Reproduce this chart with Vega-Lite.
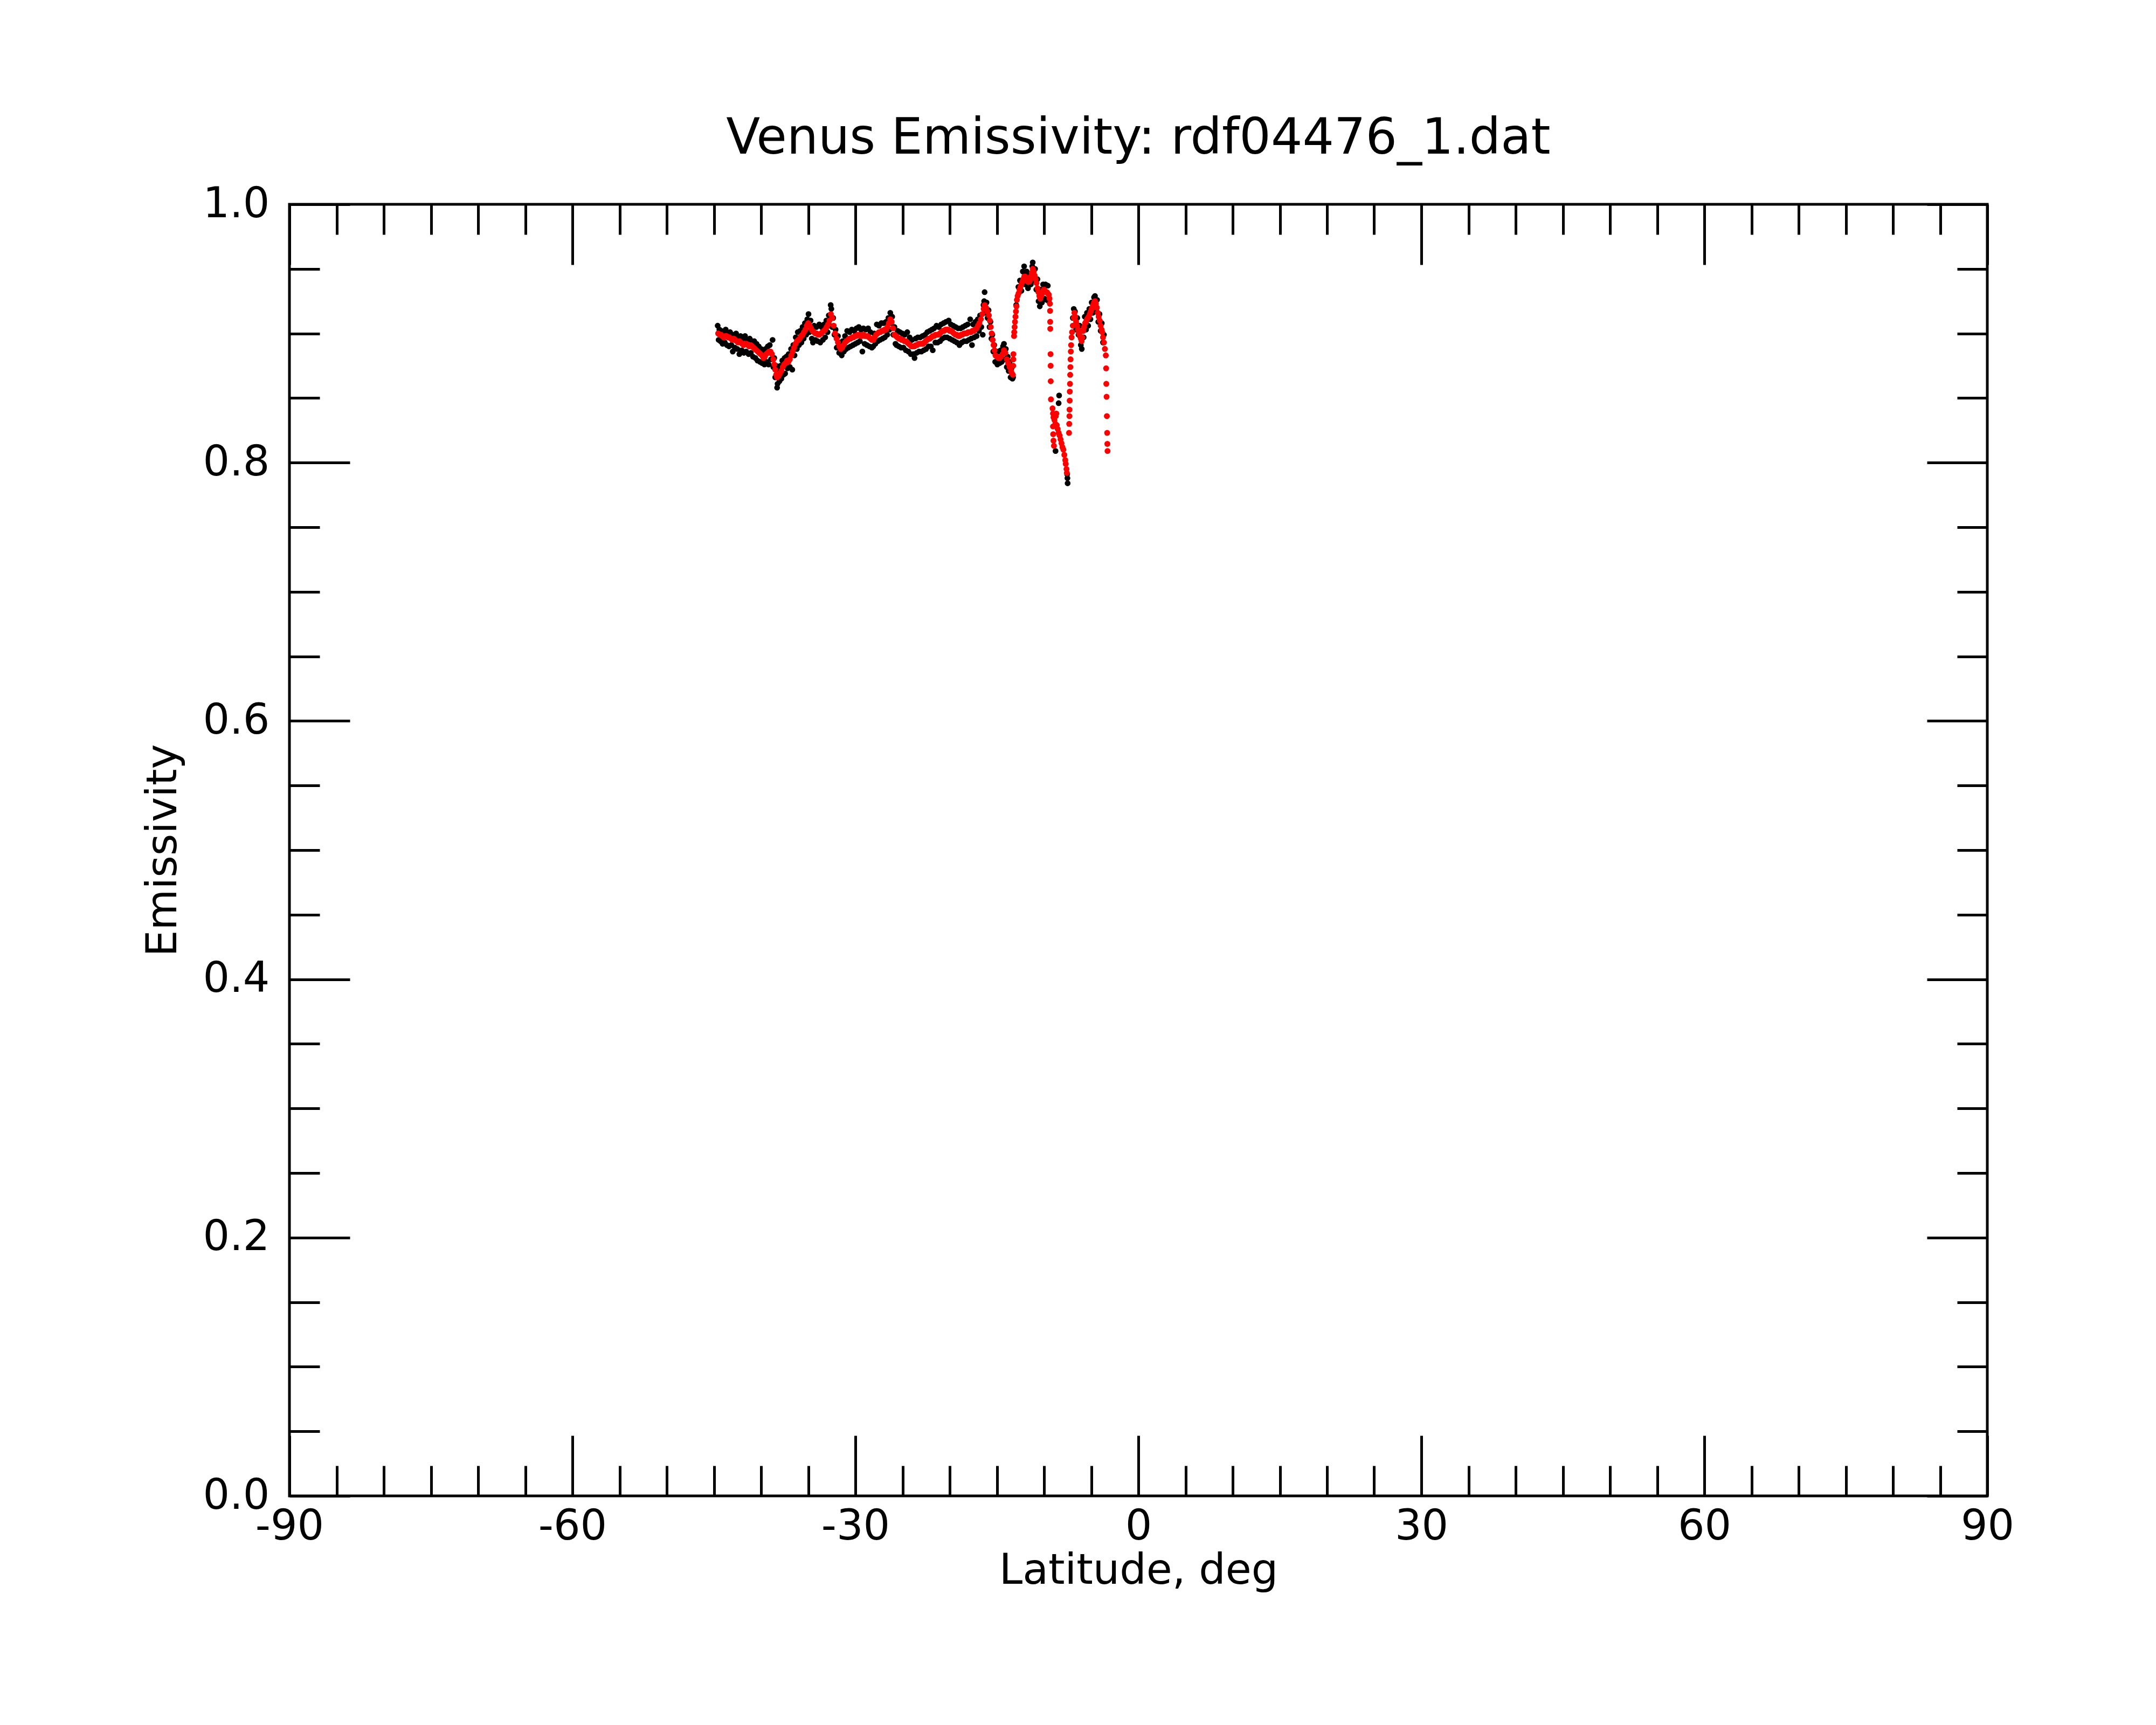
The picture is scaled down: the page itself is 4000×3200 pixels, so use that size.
{
"$schema":"https://vega.github.io/schema/vega-lite/v6.json",
"width":3150,"height":2396,
"autosize":{"type":"none"},
"padding":{"left":537,"top":379,"right":313,"bottom":425},
"background":"white",
"title":{"text":"Venus Emissivity: rdf04476_1.dat","fontSize":92,"font":"DejaVu Sans","fontWeight":"normal","color":"black","anchor":"middle","frame":"group","baseline":"alphabetic","offset":-37},
"datasets":{
"raw":[
{"lat":-44.60,"emis":0.906},{"lat":-44.50,"emis":0.895},{"lat":-44.42,"emis":0.903},{"lat":-44.30,"emis":0.894},{"lat":-44.20,"emis":0.902},{"lat":-44.08,"emis":0.892},{"lat":-43.98,"emis":0.901},{"lat":-43.85,"emis":0.893},{"lat":-43.75,"emis":0.903},{"lat":-43.62,"emis":0.891},{"lat":-43.50,"emis":0.900},{"lat":-43.40,"emis":0.890},{"lat":-43.28,"emis":0.901},{"lat":-43.15,"emis":0.891},{"lat":-43.00,"emis":0.886},{"lat":-42.90,"emis":0.899},{"lat":-42.78,"emis":0.889},{"lat":-42.65,"emis":0.900},{"lat":-42.52,"emis":0.888},{"lat":-42.40,"emis":0.897},{"lat":-42.30,"emis":0.884},{"lat":-42.18,"emis":0.898},{"lat":-42.05,"emis":0.887},{"lat":-41.95,"emis":0.896},{"lat":-41.82,"emis":0.885},{"lat":-41.70,"emis":0.898},{"lat":-41.58,"emis":0.886},{"lat":-41.45,"emis":0.895},{"lat":-41.32,"emis":0.884},{"lat":-41.20,"emis":0.896},{"lat":-41.08,"emis":0.885},{"lat":-40.95,"emis":0.894},{"lat":-40.85,"emis":0.882},{"lat":-40.72,"emis":0.894},{"lat":-40.60,"emis":0.881},{"lat":-40.48,"emis":0.892},{"lat":-40.38,"emis":0.879},{"lat":-40.25,"emis":0.890},{"lat":-40.12,"emis":0.878},{"lat":-40.00,"emis":0.888},{"lat":-39.88,"emis":0.877},{"lat":-39.75,"emis":0.887},{"lat":-39.64,"emis":0.876},{"lat":-39.52,"emis":0.888},{"lat":-39.40,"emis":0.878},{"lat":-39.28,"emis":0.890},{"lat":-39.20,"emis":0.876},{"lat":-39.08,"emis":0.891},{"lat":-38.95,"emis":0.880},{"lat":-38.78,"emis":0.895},{"lat":-38.70,"emis":0.874},{"lat":-38.60,"emis":0.881},{"lat":-38.50,"emis":0.866},{"lat":-38.40,"emis":0.875},{"lat":-38.30,"emis":0.858},{"lat":-38.25,"emis":0.861},{"lat":-38.15,"emis":0.872},{"lat":-38.05,"emis":0.863},{"lat":-37.95,"emis":0.875},{"lat":-37.85,"emis":0.865},{"lat":-37.75,"emis":0.879},{"lat":-37.62,"emis":0.868},{"lat":-37.50,"emis":0.881},{"lat":-37.45,"emis":0.869},{"lat":-37.32,"emis":0.882},{"lat":-37.20,"emis":0.873},{"lat":-37.08,"emis":0.884},{"lat":-36.95,"emis":0.874},{"lat":-36.82,"emis":0.888},{"lat":-36.69,"emis":0.872},{"lat":-36.58,"emis":0.891},{"lat":-36.45,"emis":0.883},{"lat":-36.32,"emis":0.897},{"lat":-36.20,"emis":0.888},{"lat":-36.11,"emis":0.901},{"lat":-35.98,"emis":0.891},{"lat":-35.85,"emis":0.902},{"lat":-35.72,"emis":0.893},{"lat":-35.60,"emis":0.905},{"lat":-35.48,"emis":0.896},{"lat":-35.35,"emis":0.908},{"lat":-35.22,"emis":0.899},{"lat":-35.10,"emis":0.911},{"lat":-34.97,"emis":0.915},{"lat":-34.88,"emis":0.901},{"lat":-34.75,"emis":0.910},{"lat":-34.62,"emis":0.896},{"lat":-34.50,"emis":0.893},{"lat":-34.38,"emis":0.906},{"lat":-34.25,"emis":0.895},{"lat":-34.12,"emis":0.905},{"lat":-34.00,"emis":0.894},{"lat":-33.83,"emis":0.907},{"lat":-33.72,"emis":0.893},{"lat":-33.58,"emis":0.905},{"lat":-33.45,"emis":0.895},{"lat":-33.32,"emis":0.907},{"lat":-33.20,"emis":0.897},{"lat":-33.08,"emis":0.910},{"lat":-32.95,"emis":0.901},{"lat":-32.82,"emis":0.914},{"lat":-32.70,"emis":0.906},{"lat":-32.62,"emis":0.922},{"lat":-32.55,"emis":0.919},{"lat":-32.45,"emis":0.905},{"lat":-32.35,"emis":0.912},{"lat":-32.22,"emis":0.899},{"lat":-32.10,"emis":0.903},{"lat":-31.98,"emis":0.889},{"lat":-31.85,"emis":0.898},{"lat":-31.72,"emis":0.885},{"lat":-31.60,"emis":0.893},{"lat":-31.45,"emis":0.883},{"lat":-31.35,"emis":0.894},{"lat":-31.22,"emis":0.886},{"lat":-31.10,"emis":0.898},{"lat":-30.98,"emis":0.888},{"lat":-30.87,"emis":0.902},{"lat":-30.75,"emis":0.889},{"lat":-30.62,"emis":0.901},{"lat":-30.50,"emis":0.890},{"lat":-30.38,"emis":0.903},{"lat":-30.25,"emis":0.891},{"lat":-30.12,"emis":0.902},{"lat":-30.00,"emis":0.892},{"lat":-29.88,"emis":0.904},{"lat":-29.75,"emis":0.893},{"lat":-29.64,"emis":0.905},{"lat":-29.52,"emis":0.894},{"lat":-29.40,"emis":0.903},{"lat":-29.26,"emis":0.886},{"lat":-29.15,"emis":0.904},{"lat":-29.02,"emis":0.892},{"lat":-28.90,"emis":0.903},{"lat":-28.78,"emis":0.891},{"lat":-28.65,"emis":0.904},{"lat":-28.52,"emis":0.890},{"lat":-28.40,"emis":0.901},{"lat":-28.25,"emis":0.889},{"lat":-28.11,"emis":0.890},{"lat":-28.00,"emis":0.900},{"lat":-27.88,"emis":0.892},{"lat":-27.73,"emis":0.907},{"lat":-27.62,"emis":0.894},{"lat":-27.50,"emis":0.906},{"lat":-27.38,"emis":0.895},{"lat":-27.25,"emis":0.908},{"lat":-27.12,"emis":0.896},{"lat":-27.00,"emis":0.908},{"lat":-26.88,"emis":0.897},{"lat":-26.75,"emis":0.909},{"lat":-26.62,"emis":0.899},{"lat":-26.50,"emis":0.912},{"lat":-26.40,"emis":0.903},{"lat":-26.30,"emis":0.916},{"lat":-26.22,"emis":0.908},{"lat":-26.10,"emis":0.913},{"lat":-25.98,"emis":0.899},{"lat":-25.86,"emis":0.905},{"lat":-25.75,"emis":0.892},{"lat":-25.64,"emis":0.891},{"lat":-25.52,"emis":0.902},{"lat":-25.40,"emis":0.890},{"lat":-25.28,"emis":0.901},{"lat":-25.15,"emis":0.889},{"lat":-25.02,"emis":0.900},{"lat":-24.90,"emis":0.889},{"lat":-24.78,"emis":0.899},{"lat":-24.65,"emis":0.887},{"lat":-24.50,"emis":0.901},{"lat":-24.38,"emis":0.886},{"lat":-24.25,"emis":0.897},{"lat":-24.12,"emis":0.884},{"lat":-24.00,"emis":0.895},{"lat":-23.85,"emis":0.884},{"lat":-23.73,"emis":0.881},{"lat":-23.62,"emis":0.896},{"lat":-23.50,"emis":0.885},{"lat":-23.38,"emis":0.897},{"lat":-23.25,"emis":0.886},{"lat":-23.12,"emis":0.897},{"lat":-23.00,"emis":0.886},{"lat":-22.88,"emis":0.898},{"lat":-22.75,"emis":0.887},{"lat":-22.62,"emis":0.899},{"lat":-22.50,"emis":0.888},{"lat":-22.38,"emis":0.901},{"lat":-22.25,"emis":0.890},{"lat":-22.12,"emis":0.902},{"lat":-22.00,"emis":0.890},{"lat":-21.88,"emis":0.903},{"lat":-21.80,"emis":0.887},{"lat":-21.65,"emis":0.904},{"lat":-21.52,"emis":0.893},{"lat":-21.40,"emis":0.906},{"lat":-21.28,"emis":0.893},{"lat":-21.15,"emis":0.905},{"lat":-21.02,"emis":0.894},{"lat":-20.90,"emis":0.907},{"lat":-20.78,"emis":0.896},{"lat":-20.65,"emis":0.908},{"lat":-20.52,"emis":0.897},{"lat":-20.40,"emis":0.909},{"lat":-20.28,"emis":0.897},{"lat":-20.11,"emis":0.910},{"lat":-20.00,"emis":0.896},{"lat":-19.88,"emis":0.907},{"lat":-19.75,"emis":0.895},{"lat":-19.62,"emis":0.906},{"lat":-19.50,"emis":0.894},{"lat":-19.38,"emis":0.905},{"lat":-19.25,"emis":0.893},{"lat":-19.12,"emis":0.904},{"lat":-18.97,"emis":0.891},{"lat":-18.85,"emis":0.904},{"lat":-18.72,"emis":0.893},{"lat":-18.60,"emis":0.905},{"lat":-18.48,"emis":0.894},{"lat":-18.35,"emis":0.906},{"lat":-18.22,"emis":0.894},{"lat":-18.10,"emis":0.907},{"lat":-17.98,"emis":0.895},{"lat":-17.83,"emis":0.911},{"lat":-17.72,"emis":0.896},{"lat":-17.64,"emis":0.891},{"lat":-17.52,"emis":0.907},{"lat":-17.40,"emis":0.897},{"lat":-17.28,"emis":0.909},{"lat":-17.15,"emis":0.898},{"lat":-17.02,"emis":0.911},{"lat":-16.90,"emis":0.902},{"lat":-16.78,"emis":0.914},{"lat":-16.65,"emis":0.905},{"lat":-16.50,"emis":0.899},{"lat":-16.42,"emis":0.922},{"lat":-16.35,"emis":0.925},{"lat":-16.30,"emis":0.932},{"lat":-16.22,"emis":0.916},{"lat":-16.10,"emis":0.924},{"lat":-15.98,"emis":0.912},{"lat":-15.88,"emis":0.918},{"lat":-15.78,"emis":0.905},{"lat":-15.68,"emis":0.909},{"lat":-15.58,"emis":0.896},{"lat":-15.48,"emis":0.899},{"lat":-15.38,"emis":0.886},{"lat":-15.28,"emis":0.891},{"lat":-15.18,"emis":0.878},{"lat":-15.08,"emis":0.886},{"lat":-14.95,"emis":0.876},{"lat":-14.85,"emis":0.886},{"lat":-14.72,"emis":0.877},{"lat":-14.60,"emis":0.887},{"lat":-14.48,"emis":0.878},{"lat":-14.35,"emis":0.890},{"lat":-14.25,"emis":0.892},{"lat":-14.15,"emis":0.880},{"lat":-14.05,"emis":0.888},{"lat":-13.95,"emis":0.874},{"lat":-13.85,"emis":0.882},{"lat":-13.75,"emis":0.871},{"lat":-13.65,"emis":0.878},{"lat":-13.55,"emis":0.866},{"lat":-13.45,"emis":0.873},{"lat":-13.35,"emis":0.865},{"lat":-13.28,"emis":0.866},
{"lat":-12.95,"emis":0.922},{"lat":-12.72,"emis":0.936},{"lat":-12.55,"emis":0.941},{"lat":-12.40,"emis":0.933},{"lat":-12.25,"emis":0.948},{"lat":-12.11,"emis":0.952},{"lat":-12.00,"emis":0.938},{"lat":-11.85,"emis":0.948},{"lat":-11.70,"emis":0.935},{"lat":-11.55,"emis":0.946},{"lat":-11.40,"emis":0.938},{"lat":-11.25,"emis":0.952},{"lat":-11.20,"emis":0.955},{"lat":-11.08,"emis":0.941},{"lat":-10.95,"emis":0.950},{"lat":-10.82,"emis":0.934},{"lat":-10.70,"emis":0.942},{"lat":-10.58,"emis":0.925},{"lat":-10.45,"emis":0.921},{"lat":-10.35,"emis":0.934},{"lat":-10.22,"emis":0.924},{"lat":-10.10,"emis":0.938},{"lat":-9.98,"emis":0.927},{"lat":-9.85,"emis":0.938},{"lat":-9.72,"emis":0.926},{"lat":-9.60,"emis":0.937},{"lat":-9.50,"emis":0.925},
{"lat":-8.78,"emis":0.809},{"lat":-8.40,"emis":0.852},{"lat":-8.45,"emis":0.846},{"lat":-8.95,"emis":0.836},{"lat":-7.50,"emis":0.784},{"lat":-7.52,"emis":0.788},{"lat":-7.55,"emis":0.791},
{"lat":-6.95,"emis":0.912},{"lat":-6.85,"emis":0.919},{"lat":-6.72,"emis":0.917},{"lat":-6.60,"emis":0.903},{"lat":-6.48,"emis":0.912},{"lat":-6.35,"emis":0.899},{"lat":-6.22,"emis":0.906},{"lat":-6.10,"emis":0.891},{"lat":-6.00,"emis":0.888},{"lat":-5.90,"emis":0.902},{"lat":-5.80,"emis":0.897},{"lat":-5.68,"emis":0.913},{"lat":-5.55,"emis":0.903},{"lat":-5.45,"emis":0.916},{"lat":-5.32,"emis":0.906},{"lat":-5.20,"emis":0.919},{"lat":-5.08,"emis":0.911},{"lat":-4.95,"emis":0.924},{"lat":-4.82,"emis":0.916},{"lat":-4.70,"emis":0.928},{"lat":-4.60,"emis":0.929},{"lat":-4.48,"emis":0.918},{"lat":-4.38,"emis":0.926},{"lat":-4.25,"emis":0.909},{"lat":-4.12,"emis":0.915},{"lat":-4.00,"emis":0.902},{"lat":-3.88,"emis":0.908},{"lat":-3.75,"emis":0.893},{"lat":-3.65,"emis":0.899}
],
"smooth":[
{"lat":-44.55,"emis":0.900},{"lat":-44.40,"emis":0.899},{"lat":-44.25,"emis":0.899},{"lat":-44.10,"emis":0.898},{"lat":-43.95,"emis":0.897},{"lat":-43.80,"emis":0.898},{"lat":-43.65,"emis":0.898},{"lat":-43.50,"emis":0.897},{"lat":-43.35,"emis":0.897},{"lat":-43.20,"emis":0.896},{"lat":-43.05,"emis":0.895},{"lat":-42.90,"emis":0.896},{"lat":-42.75,"emis":0.895},{"lat":-42.60,"emis":0.894},{"lat":-42.45,"emis":0.893},{"lat":-42.30,"emis":0.894},{"lat":-42.15,"emis":0.893},{"lat":-42.00,"emis":0.892},{"lat":-41.85,"emis":0.891},{"lat":-41.70,"emis":0.892},{"lat":-41.55,"emis":0.892},{"lat":-41.40,"emis":0.891},{"lat":-41.25,"emis":0.890},{"lat":-41.10,"emis":0.891},{"lat":-40.95,"emis":0.890},{"lat":-40.80,"emis":0.889},{"lat":-40.65,"emis":0.888},{"lat":-40.50,"emis":0.887},{"lat":-40.35,"emis":0.886},{"lat":-40.20,"emis":0.885},{"lat":-40.05,"emis":0.884},{"lat":-39.90,"emis":0.883},{"lat":-39.75,"emis":0.881},{"lat":-39.60,"emis":0.882},{"lat":-39.45,"emis":0.884},{"lat":-39.30,"emis":0.885},{"lat":-39.15,"emis":0.886},{"lat":-39.00,"emis":0.886},{"lat":-38.85,"emis":0.884},{"lat":-38.70,"emis":0.880},{"lat":-38.60,"emis":0.876},{"lat":-38.50,"emis":0.872},{"lat":-38.40,"emis":0.868},{"lat":-38.30,"emis":0.866},{"lat":-38.15,"emis":0.867},{"lat":-38.00,"emis":0.869},{"lat":-37.85,"emis":0.871},{"lat":-37.70,"emis":0.874},{"lat":-37.55,"emis":0.876},{"lat":-37.40,"emis":0.877},{"lat":-37.25,"emis":0.879},{"lat":-37.10,"emis":0.878},{"lat":-36.95,"emis":0.880},{"lat":-36.80,"emis":0.883},{"lat":-36.65,"emis":0.886},{"lat":-36.50,"emis":0.889},{"lat":-36.35,"emis":0.892},{"lat":-36.20,"emis":0.894},{"lat":-36.05,"emis":0.895},{"lat":-35.90,"emis":0.896},{"lat":-35.75,"emis":0.898},{"lat":-35.60,"emis":0.899},{"lat":-35.45,"emis":0.901},{"lat":-35.30,"emis":0.903},{"lat":-35.15,"emis":0.906},{"lat":-35.00,"emis":0.908},{"lat":-34.85,"emis":0.906},{"lat":-34.70,"emis":0.904},{"lat":-34.55,"emis":0.902},{"lat":-34.40,"emis":0.901},{"lat":-34.25,"emis":0.900},{"lat":-34.10,"emis":0.900},{"lat":-33.95,"emis":0.899},{"lat":-33.80,"emis":0.899},{"lat":-33.65,"emis":0.900},{"lat":-33.50,"emis":0.901},{"lat":-33.35,"emis":0.902},{"lat":-33.20,"emis":0.903},{"lat":-33.05,"emis":0.905},{"lat":-32.90,"emis":0.907},{"lat":-32.75,"emis":0.910},{"lat":-32.60,"emis":0.915},{"lat":-32.45,"emis":0.912},{"lat":-32.30,"emis":0.906},{"lat":-32.15,"emis":0.900},{"lat":-32.00,"emis":0.896},{"lat":-31.85,"emis":0.893},{"lat":-31.70,"emis":0.890},{"lat":-31.55,"emis":0.888},{"lat":-31.40,"emis":0.889},{"lat":-31.25,"emis":0.891},{"lat":-31.10,"emis":0.893},{"lat":-30.95,"emis":0.894},{"lat":-30.80,"emis":0.895},{"lat":-30.65,"emis":0.896},{"lat":-30.50,"emis":0.896},{"lat":-30.35,"emis":0.897},{"lat":-30.20,"emis":0.897},{"lat":-30.05,"emis":0.898},{"lat":-29.90,"emis":0.898},{"lat":-29.75,"emis":0.899},{"lat":-29.60,"emis":0.899},{"lat":-29.45,"emis":0.898},{"lat":-29.30,"emis":0.898},{"lat":-29.15,"emis":0.899},{"lat":-29.00,"emis":0.898},{"lat":-28.85,"emis":0.898},{"lat":-28.70,"emis":0.898},{"lat":-28.55,"emis":0.897},{"lat":-28.40,"emis":0.896},{"lat":-28.25,"emis":0.895},{"lat":-28.10,"emis":0.895},{"lat":-27.95,"emis":0.897},{"lat":-27.80,"emis":0.899},{"lat":-27.65,"emis":0.900},{"lat":-27.50,"emis":0.901},{"lat":-27.35,"emis":0.901},{"lat":-27.20,"emis":0.902},{"lat":-27.05,"emis":0.902},{"lat":-26.90,"emis":0.903},{"lat":-26.75,"emis":0.903},{"lat":-26.60,"emis":0.905},{"lat":-26.45,"emis":0.908},{"lat":-26.30,"emis":0.911},{"lat":-26.15,"emis":0.909},{"lat":-26.00,"emis":0.904},{"lat":-25.85,"emis":0.899},{"lat":-25.70,"emis":0.898},{"lat":-25.55,"emis":0.897},{"lat":-25.40,"emis":0.896},{"lat":-25.25,"emis":0.896},{"lat":-25.10,"emis":0.895},{"lat":-24.95,"emis":0.895},{"lat":-24.80,"emis":0.894},{"lat":-24.65,"emis":0.894},{"lat":-24.50,"emis":0.893},{"lat":-24.35,"emis":0.892},{"lat":-24.20,"emis":0.891},{"lat":-24.05,"emis":0.890},{"lat":-23.90,"emis":0.890},{"lat":-23.75,"emis":0.890},{"lat":-23.60,"emis":0.891},{"lat":-23.45,"emis":0.891},{"lat":-23.30,"emis":0.892},{"lat":-23.15,"emis":0.892},{"lat":-23.00,"emis":0.892},{"lat":-22.85,"emis":0.892},{"lat":-22.70,"emis":0.893},{"lat":-22.55,"emis":0.894},{"lat":-22.40,"emis":0.895},{"lat":-22.25,"emis":0.896},{"lat":-22.10,"emis":0.896},{"lat":-21.95,"emis":0.897},{"lat":-21.80,"emis":0.898},{"lat":-21.65,"emis":0.898},{"lat":-21.50,"emis":0.899},{"lat":-21.35,"emis":0.899},{"lat":-21.20,"emis":0.899},{"lat":-21.05,"emis":0.900},{"lat":-20.90,"emis":0.901},{"lat":-20.75,"emis":0.902},{"lat":-20.60,"emis":0.902},{"lat":-20.45,"emis":0.903},{"lat":-20.30,"emis":0.903},{"lat":-20.15,"emis":0.903},{"lat":-20.00,"emis":0.902},{"lat":-19.85,"emis":0.902},{"lat":-19.70,"emis":0.901},{"lat":-19.55,"emis":0.900},{"lat":-19.40,"emis":0.899},{"lat":-19.25,"emis":0.899},{"lat":-19.10,"emis":0.898},{"lat":-18.95,"emis":0.898},{"lat":-18.80,"emis":0.899},{"lat":-18.65,"emis":0.899},{"lat":-18.50,"emis":0.900},{"lat":-18.35,"emis":0.900},{"lat":-18.20,"emis":0.900},{"lat":-18.05,"emis":0.901},{"lat":-17.90,"emis":0.901},{"lat":-17.75,"emis":0.901},{"lat":-17.60,"emis":0.902},{"lat":-17.45,"emis":0.902},{"lat":-17.30,"emis":0.903},{"lat":-17.15,"emis":0.904},{"lat":-17.00,"emis":0.906},{"lat":-16.85,"emis":0.908},{"lat":-16.70,"emis":0.911},{"lat":-16.55,"emis":0.915},{"lat":-16.40,"emis":0.919},{"lat":-16.30,"emis":0.922},{"lat":-16.15,"emis":0.920},{"lat":-16.00,"emis":0.917},{"lat":-15.85,"emis":0.914},{"lat":-15.75,"emis":0.910},{"lat":-15.65,"emis":0.905},{"lat":-15.55,"emis":0.900},{"lat":-15.45,"emis":0.895},{"lat":-15.35,"emis":0.891},{"lat":-15.25,"emis":0.887},{"lat":-15.15,"emis":0.883},{"lat":-15.00,"emis":0.882},{"lat":-14.85,"emis":0.881},{"lat":-14.70,"emis":0.881},{"lat":-14.55,"emis":0.882},{"lat":-14.40,"emis":0.884},{"lat":-14.25,"emis":0.887},{"lat":-14.10,"emis":0.885},{"lat":-13.95,"emis":0.880},{"lat":-13.80,"emis":0.877},{"lat":-13.65,"emis":0.874},{"lat":-13.50,"emis":0.871},{"lat":-13.40,"emis":0.869},{"lat":-13.30,"emis":0.868},{"lat":-13.25,"emis":0.884},{"lat":-13.26,"emis":0.880},{"lat":-13.27,"emis":0.875},
{"lat":-13.18,"emis":0.898},{"lat":-13.16,"emis":0.901},{"lat":-13.12,"emis":0.905},{"lat":-13.08,"emis":0.909},{"lat":-13.03,"emis":0.913},{"lat":-12.98,"emis":0.917},{"lat":-12.93,"emis":0.921},{"lat":-12.88,"emis":0.926},{"lat":-12.80,"emis":0.929},{"lat":-12.70,"emis":0.931},{"lat":-12.60,"emis":0.934},{"lat":-12.50,"emis":0.936},{"lat":-12.40,"emis":0.938},{"lat":-12.30,"emis":0.940},{"lat":-12.20,"emis":0.942},{"lat":-12.10,"emis":0.944},{"lat":-12.00,"emis":0.944},{"lat":-11.90,"emis":0.943},{"lat":-11.80,"emis":0.941},{"lat":-11.70,"emis":0.940},{"lat":-11.60,"emis":0.940},{"lat":-11.50,"emis":0.941},{"lat":-11.40,"emis":0.944},{"lat":-11.30,"emis":0.947},{"lat":-11.20,"emis":0.950},{"lat":-11.10,"emis":0.948},{"lat":-11.00,"emis":0.945},{"lat":-10.90,"emis":0.942},{"lat":-10.80,"emis":0.939},{"lat":-10.70,"emis":0.935},{"lat":-10.60,"emis":0.932},{"lat":-10.50,"emis":0.929},{"lat":-10.40,"emis":0.927},{"lat":-10.30,"emis":0.929},{"lat":-10.20,"emis":0.931},{"lat":-10.10,"emis":0.933},{"lat":-10.00,"emis":0.934},{"lat":-9.90,"emis":0.933},{"lat":-9.80,"emis":0.932},{"lat":-9.70,"emis":0.932},{"lat":-9.60,"emis":0.931},{"lat":-9.50,"emis":0.930},{"lat":-9.42,"emis":0.927},{"lat":-9.38,"emis":0.923},
{"lat":-9.36,"emis":0.9175},{"lat":-9.35,"emis":0.909},{"lat":-9.34,"emis":0.9036},{"lat":-9.31,"emis":0.884},{"lat":-9.30,"emis":0.875},{"lat":-9.29,"emis":0.863},{"lat":-9.27,"emis":0.849},
{"lat":-9.10,"emis":0.842},{"lat":-9.05,"emis":0.838},{"lat":-9.00,"emis":0.835},{"lat":-8.90,"emis":0.833},{"lat":-8.80,"emis":0.830},{"lat":-8.75,"emis":0.836},{"lat":-8.70,"emis":0.838},{"lat":-9.05,"emis":0.828},{"lat":-9.03,"emis":0.822},{"lat":-9.00,"emis":0.817},{"lat":-8.95,"emis":0.813},
{"lat":-8.65,"emis":0.829},{"lat":-8.55,"emis":0.826},{"lat":-8.45,"emis":0.823},{"lat":-8.35,"emis":0.821},{"lat":-8.25,"emis":0.818},{"lat":-8.15,"emis":0.815},{"lat":-8.05,"emis":0.812},{"lat":-7.95,"emis":0.810},{"lat":-7.85,"emis":0.806},{"lat":-7.75,"emis":0.802},{"lat":-7.70,"emis":0.799},{"lat":-7.62,"emis":0.795},{"lat":-7.58,"emis":0.792},
{"lat":-7.35,"emis":0.823},{"lat":-7.33,"emis":0.830},{"lat":-7.31,"emis":0.836},{"lat":-7.30,"emis":0.841},{"lat":-7.28,"emis":0.848},{"lat":-7.27,"emis":0.855},{"lat":-7.25,"emis":0.861},{"lat":-7.23,"emis":0.868},{"lat":-7.21,"emis":0.874},{"lat":-7.19,"emis":0.880},{"lat":-7.16,"emis":0.886},{"lat":-7.13,"emis":0.891},{"lat":-7.08,"emis":0.897},{"lat":-7.03,"emis":0.901},
{"lat":-6.95,"emis":0.906},{"lat":-6.85,"emis":0.912},{"lat":-6.78,"emis":0.916},{"lat":-6.70,"emis":0.913},{"lat":-6.60,"emis":0.909},{"lat":-6.50,"emis":0.906},{"lat":-6.40,"emis":0.903},{"lat":-6.30,"emis":0.900},{"lat":-6.20,"emis":0.898},{"lat":-6.10,"emis":0.896},{"lat":-6.02,"emis":0.894},{"lat":-5.95,"emis":0.897},{"lat":-5.85,"emis":0.902},{"lat":-5.75,"emis":0.905},{"lat":-5.64,"emis":0.908},{"lat":-5.55,"emis":0.909},{"lat":-5.45,"emis":0.911},{"lat":-5.35,"emis":0.912},{"lat":-5.26,"emis":0.913},{"lat":-5.15,"emis":0.915},{"lat":-5.05,"emis":0.917},{"lat":-4.95,"emis":0.919},{"lat":-4.88,"emis":0.920},{"lat":-4.80,"emis":0.922},{"lat":-4.70,"emis":0.924},{"lat":-4.60,"emis":0.925},{"lat":-4.50,"emis":0.923},{"lat":-4.40,"emis":0.920},{"lat":-4.30,"emis":0.916},{"lat":-4.21,"emis":0.913},{"lat":-4.10,"emis":0.910},{"lat":-4.00,"emis":0.906},{"lat":-3.90,"emis":0.903},{"lat":-3.83,"emis":0.901},{"lat":-3.75,"emis":0.897},{"lat":-3.65,"emis":0.893},{"lat":-3.55,"emis":0.888},{"lat":-3.45,"emis":0.883},
{"lat":-3.42,"emis":0.873},{"lat":-3.40,"emis":0.861},{"lat":-3.37,"emis":0.851},{"lat":-3.34,"emis":0.836},{"lat":-3.31,"emis":0.823},{"lat":-3.29,"emis":0.8145},{"lat":-3.27,"emis":0.809}
]
},
"layer":[
{"data":{"name":"raw"},"mark":{"type":"circle","color":"black","opacity":1,"size":115},
 "encoding":{
  "x":{"field":"lat","type":"quantitative","scale":{"domain":[-90,90],"nice":false,"zero":false},
   "axis":{"orient":"bottom","values":[-90,-60,-30,0,30,60,90],"labelExpr":"'' + datum.value","ticks":false,"domain":false,"grid":false,"labelFontSize":78,"labelPadding":18,"labelFlush":false,"labelOverlap":false,"title":"Latitude, deg","titleFontSize":78,"titlePadding":4}},
  "y":{"field":"emis","type":"quantitative","scale":{"domain":[0,1],"nice":false,"zero":false},
   "axis":{"orient":"left","values":[0,0.2,0.4,0.6,0.8,1.0],"format":".1f","ticks":false,"domain":false,"grid":false,"labelFontSize":78,"labelPadding":37,"labelFlush":false,"labelOverlap":false,"title":"Emissivity","titleFontSize":78,"titlePadding":33}}}},
{"data":{"name":"smooth"},"mark":{"type":"circle","color":"#ff0000","opacity":1,"size":120},
 "encoding":{
  "x":{"field":"lat","type":"quantitative","scale":{"domain":[-90,90],"nice":false,"zero":false},
   "axis":{"orient":"bottom","values":[-90,-60,-30,0,30,60,90],"ticks":true,"tickSize":-112,"tickWidth":5,"labels":false,"domain":false,"grid":false,"title":null}},
  "y":{"field":"emis","type":"quantitative","scale":{"domain":[0,1],"nice":false,"zero":false},
   "axis":{"orient":"left","values":[0,0.2,0.4,0.6,0.8,1.0],"ticks":true,"tickSize":-112,"tickWidth":5,"labels":false,"domain":false,"grid":false,"title":null}}}},
{"data":{"name":"smooth"},"transform":[{"filter":"datum.lat < -44.5"}],"mark":{"type":"circle","opacity":0},
 "encoding":{
  "x":{"field":"lat","type":"quantitative","scale":{"domain":[-90,90],"nice":false,"zero":false},
   "axis":{"orient":"bottom","values":[-85,-80,-75,-70,-65,-55,-50,-45,-40,-35,-25,-20,-15,-10,-5,5,10,15,20,25,35,40,45,50,55,65,70,75,80,85],"ticks":true,"tickSize":-56,"tickWidth":5,"labels":false,"domain":false,"grid":false,"title":null}},
  "y":{"field":"emis","type":"quantitative","scale":{"domain":[0,1],"nice":false,"zero":false},
   "axis":{"orient":"left","values":[0.05,0.1,0.15,0.25,0.3,0.35,0.45,0.5,0.55,0.65,0.7,0.75,0.85,0.9,0.95],"ticks":true,"tickSize":-56,"tickWidth":5,"labels":false,"domain":false,"grid":false,"title":null}}}},
{"data":{"name":"smooth"},"transform":[{"filter":"datum.lat < -44.5"}],"mark":{"type":"circle","opacity":0},
 "encoding":{
  "x":{"field":"lat","type":"quantitative","scale":{"domain":[-90,90],"nice":false,"zero":false},
   "axis":{"orient":"top","values":[-90,-60,-30,0,30,60,90],"ticks":true,"tickSize":-112,"tickWidth":5,"labels":false,"domain":false,"grid":false,"title":null}},
  "y":{"field":"emis","type":"quantitative","scale":{"domain":[0,1],"nice":false,"zero":false},
   "axis":{"orient":"right","values":[0,0.2,0.4,0.6,0.8,1.0],"ticks":true,"tickSize":-112,"tickWidth":5,"labels":false,"domain":false,"grid":false,"title":null}}}},
{"data":{"name":"smooth"},"transform":[{"filter":"datum.lat < -44.5"}],"mark":{"type":"circle","opacity":0},
 "encoding":{
  "x":{"field":"lat","type":"quantitative","scale":{"domain":[-90,90],"nice":false,"zero":false},
   "axis":{"orient":"top","values":[-85,-80,-75,-70,-65,-55,-50,-45,-40,-35,-25,-20,-15,-10,-5,5,10,15,20,25,35,40,45,50,55,65,70,75,80,85],"ticks":true,"tickSize":-56,"tickWidth":5,"labels":false,"domain":false,"grid":false,"title":null}},
  "y":{"field":"emis","type":"quantitative","scale":{"domain":[0,1],"nice":false,"zero":false},
   "axis":{"orient":"right","values":[0.05,0.1,0.15,0.25,0.3,0.35,0.45,0.5,0.55,0.65,0.7,0.75,0.85,0.9,0.95],"ticks":true,"tickSize":-56,"tickWidth":5,"labels":false,"domain":false,"grid":false,"title":null}}}}
],
"resolve":{"axis":{"x":"independent","y":"independent"}},
"config":{
 "view":{"stroke":"black","strokeWidth":5},
 "font":"DejaVu Sans",
 "axis":{"labelFont":"DejaVu Sans","titleFont":"DejaVu Sans","labelColor":"black","titleColor":"black","tickColor":"black","titleFontWeight":"normal","grid":false,"domain":false}
}
}
